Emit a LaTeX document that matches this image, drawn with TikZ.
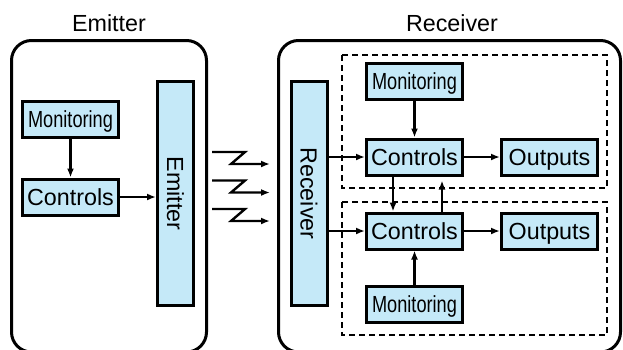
\documentclass[tikz,border=0pt]{standalone}
\usepackage{fontspec}
\setmainfont{Liberation Sans}
\usetikzlibrary{arrows.meta}
\definecolor{boxblue}{RGB}{197,233,248}
\newcommand{\narrowtext}[1]{\scalebox{0.78}[1]{#1}}

\begin{document}
\begin{tikzpicture}[x=1pt,y=-1pt,
    font=\fontsize{23.3}{28}\selectfont,
    unit/.style={draw, line width=3pt, fill=boxblue, inner sep=0pt,
        minimum width=96pt, minimum height=36pt, text depth=0pt},
    bar/.style={draw, line width=3pt, fill=boxblue, inner sep=0pt,
        minimum width=36pt, minimum height=224pt},
    frame/.style={line width=3pt, rounded corners=20pt},
    group/.style={line width=1.3pt, dash pattern=on 6pt off 4pt},
    link/.style={line width=2.4pt, -{Latex[length=9pt,width=7pt]}}]
            \useasboundingbox (0,0) rectangle (623,349);

            % outer frames
            \draw[frame] (11.5,40.5) rectangle (206.5,352);
            \draw[frame] (278.5,40.5) rectangle (620.5,352);
            \node (elabel) at (109,23.5) {Emitter};
            \node (rlabel) at (452,23.5) {Receiver};

            % dashed groups
            \draw[group] (342,55) rectangle (607,188);
            \draw[group] (342,202) rectangle (607,335);

            % emitter side
            \node[unit] (emon) at ( 70.5,119.5) {\narrowtext{Monitoring}};
            \node[unit] (ectl) at ( 70.5,197  ) {Controls};
            \node[bar]  (emit) at (175.5,193.5) {\rotatebox{-90}{Emitter}};

            % receiver side
            \node[bar]  (recv)  at (309  ,193.5) {\rotatebox{-90}{Receiver}};
            \node[unit] (rmon1) at (414.5, 81  ) {\narrowtext{Monitoring}};
            \node[unit] (rctl1) at (414.5,157  ) {Controls};
            \node[unit] (rout1) at (549.5,157  ) {Outputs};
            \node[unit] (rctl2) at (414.5,231  ) {Controls};
            \node[unit] (rout2) at (549.5,231  ) {Outputs};
            \node[unit] (rmon2) at (414.5,304.5) {\narrowtext{Monitoring}};

            \draw[link] (emon) -- (ectl);
            \draw[link] (ectl.east) -- (ectl.east -| emit.west);

            % signals
            \foreach \i/\y in {1/152,2/180.5,3/209} {
                \coordinate (zs\i) at (212,\y);
                \coordinate (ze\i) at (270,\y+12);
                \draw[link] (zs\i) -- ++(33,0) -- ++(-14,12) -- (ze\i);
            }

            \draw[link] (rctl1.west -| recv.east) -- (rctl1.west);
            \draw[link] (rctl2.west -| recv.east) -- (rctl2.west);
            \draw[link] (rmon1) -- (rctl1);
            \draw[link] (rmon2) -- (rctl2);
            \draw[link] (rctl1) -- (rout1);
            \draw[link] (rctl2) -- (rout2);
            \draw[link] ([xshift=-21.5pt]rctl1.south) -- ([xshift=-21.5pt]rctl2.north);
            \draw[link, shorten >=4pt] ([xshift=27.5pt]rctl2.north) -- ([xshift=27.5pt]rctl1.south);
        \end{tikzpicture}
\end{document}
